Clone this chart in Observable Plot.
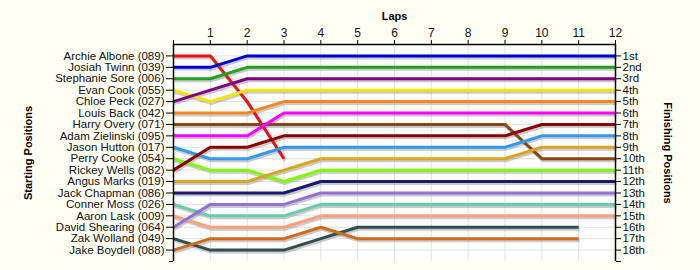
<!DOCTYPE html>
<html>
<head>
<meta charset="utf-8">
<script src="https://cdn.jsdelivr.net/npm/d3@7"></script>
<script src="https://cdn.jsdelivr.net/npm/@observablehq/plot@0.6"></script>
<style>
  html, body { margin: 0; padding: 0; background: #fffff4; }
  #chart svg { display: block; }
</style>
</head>
<body>
<div id="chart"></div>
<script>
const drivers = [
  "Archie Albone (089)", "Josiah Twinn (039)", "Stephanie Sore (006)", "Evan Cook (055)",
  "Chloe Peck (027)", "Louis Back (042)", "Harry Overy (071)", "Adam Zielinski (095)",
  "Jason Hutton (017)", "Perry Cooke (054)", "Rickey Wells (082)", "Angus Marks (019)",
  "Jack Chapman (086)", "Conner Moss (026)", "Aaron Lask (009)", "David Shearing (064)",
  "Zak Wolland (049)", "Jake Boydell (088)"
];
const colors = [
  "#ee1111", "#0000d8", "#22a022", "#f5e600",
  "#800080", "#f7881f", "#8b4513", "#ff00ff",
  "#3399ee", "#7cfc00", "#8b0000", "#daa520",
  "#191970", "#66cdaa", "#ffa07a", "#9370db",
  "#2f4f4f", "#d2691e"
];
const laps = [0, 1, 2, 3, 4, 5, 6, 7, 8, 9, 10, 11, 12];
const finishLabels = ["1st","2nd","3rd","4th","5th","6th","7th","8th","9th","10th",
  "11th","12th","13th","14th","15th","16th","17th","18th"];
// position of each driver at laps 0..12 (null = out of race)
const positions = [
  [1, 1, 5, 10, null, null, null, null, null, null, null, null, null],
  [2, 2, 1, 1, 1, 1, 1, 1, 1, 1, 1, 1, 1],
  [3, 3, 2, 2, 2, 2, 2, 2, 2, 2, 2, 2, 2],
  [4, 5, 4, 4, 4, 4, 4, 4, 4, 4, 4, 4, 4],
  [5, 4, 3, 3, 3, 3, 3, 3, 3, 3, 3, 3, 3],
  [6, 6, 6, 5, 5, 5, 5, 5, 5, 5, 5, 5, 5],
  [7, 7, 7, 7, 7, 7, 7, 7, 7, 7, 10, 10, 10],
  [8, 8, 8, 6, 6, 6, 6, 6, 6, 6, 6, 6, 6],
  [9, 10, 10, 9, 9, 9, 9, 9, 9, 9, 8, 8, 8],
  [10, 11, 11, 12, 11, 11, 11, 11, 11, 11, 11, 11, 11],
  [11, 9, 9, 8, 8, 8, 8, 8, 8, 8, 7, 7, 7],
  [12, 12, 12, 11, 10, 10, 10, 10, 10, 10, 9, 9, 9],
  [13, 13, 13, 13, 12, 12, 12, 12, 12, 12, 12, 12, 12],
  [14, 15, 15, 15, 14, 14, 14, 14, 14, 14, 14, 14, 14],
  [15, 16, 16, 16, 15, 15, 15, 15, 15, 15, 15, 15, 15],
  [16, 14, 14, 14, 13, 13, 13, 13, 13, 13, 13, 13, 13],
  [17, 18, 18, 18, 17, 16, 16, 16, 16, 16, 16, 16, null],
  [18, 17, 17, 17, 16, 17, 17, 17, 17, 17, 17, 17, null]
];

const data = [];
drivers.forEach((d, i) => {
  laps.forEach((lap, j) => {
    const p = positions[i][j];
    if (p != null) data.push({driver: d, lap, pos: p});
  });
});

const chart = Plot.plot({
  width: 700,
  height: 270,
  marginLeft: 173,
  marginRight: 85,
  marginTop: 44,
  marginBottom: 9,
  style: {background: "#fffff4", fontFamily: "'Liberation Sans', Arial, sans-serif", fontSize: "11.5px", color: "#111"},
  x: {domain: [0, 12], axis: null},
  y: {domain: [0, 19], reverse: true, axis: null},
  color: {domain: drivers, range: colors},
  marks: [
    Plot.frame({fill: "white", stroke: "none"}),
    Plot.gridX({ticks: d3.range(1, 12), stroke: "#e2e2e2", strokeOpacity: 1}),
    Plot.gridY({ticks: d3.range(1, 19), stroke: "#e2e2e2", strokeOpacity: 1}),
    Plot.line(data, {x: "lap", y: "pos", z: "driver", stroke: "#7a7a7a", strokeOpacity: 0.4, strokeWidth: 3, dx: 1, dy: 2, strokeLinejoin: "miter", strokeLinecap: "butt"}),
    Plot.line(data, {x: "lap", y: "pos", z: "driver", stroke: "driver", strokeWidth: 3, strokeLinejoin: "miter", strokeLinecap: "butt"}),
    Plot.ruleY([0], {stroke: "black", strokeWidth: 1.5}),
    Plot.ruleX([0], {stroke: "black", strokeWidth: 1.5}),
    Plot.ruleX([12], {stroke: "black", strokeWidth: 1.5}),
    Plot.axisX({anchor: "top", ticks: laps, tickFormat: d => d === 0 ? "" : String(d), tickSize: 5, tickPadding: 3, label: null, fontSize: 12, stroke: "black"}),
    Plot.axisY({anchor: "left", ticks: d3.range(1, 19), tickFormat: d => drivers[d - 1], tickSize: 7, tickPadding: 2, label: null, fontSize: 11.5, stroke: "black"}),
    Plot.axisY({anchor: "left", ticks: [19], tickFormat: () => "", tickSize: 4, label: null, stroke: "black"}),
    Plot.axisY({anchor: "right", ticks: d3.range(1, 19), tickFormat: d => finishLabels[d - 1], tickSize: 5, tickPadding: 2, label: null, fontSize: 11.5, stroke: "black"}),
    Plot.axisY({anchor: "right", ticks: [19], tickFormat: () => "", tickSize: 5, label: null, stroke: "black"}),
    Plot.text(["Laps"], {frameAnchor: "top", dy: -28, lineAnchor: "middle", fontWeight: "bold", fontSize: 11, fill: "black"}),
    Plot.text(["Starting Positions"], {frameAnchor: "left", dx: -145, rotate: -90, lineAnchor: "middle", textAnchor: "middle", fontWeight: "bold", fontSize: 11, fill: "black"}),
    Plot.text(["Finishing Positions"], {frameAnchor: "right", dx: 52, rotate: 90, lineAnchor: "middle", textAnchor: "middle", fontWeight: "bold", fontSize: 11, fill: "black"})
  ]
});
document.getElementById("chart").appendChild(chart);
</script>
</body>
</html>
